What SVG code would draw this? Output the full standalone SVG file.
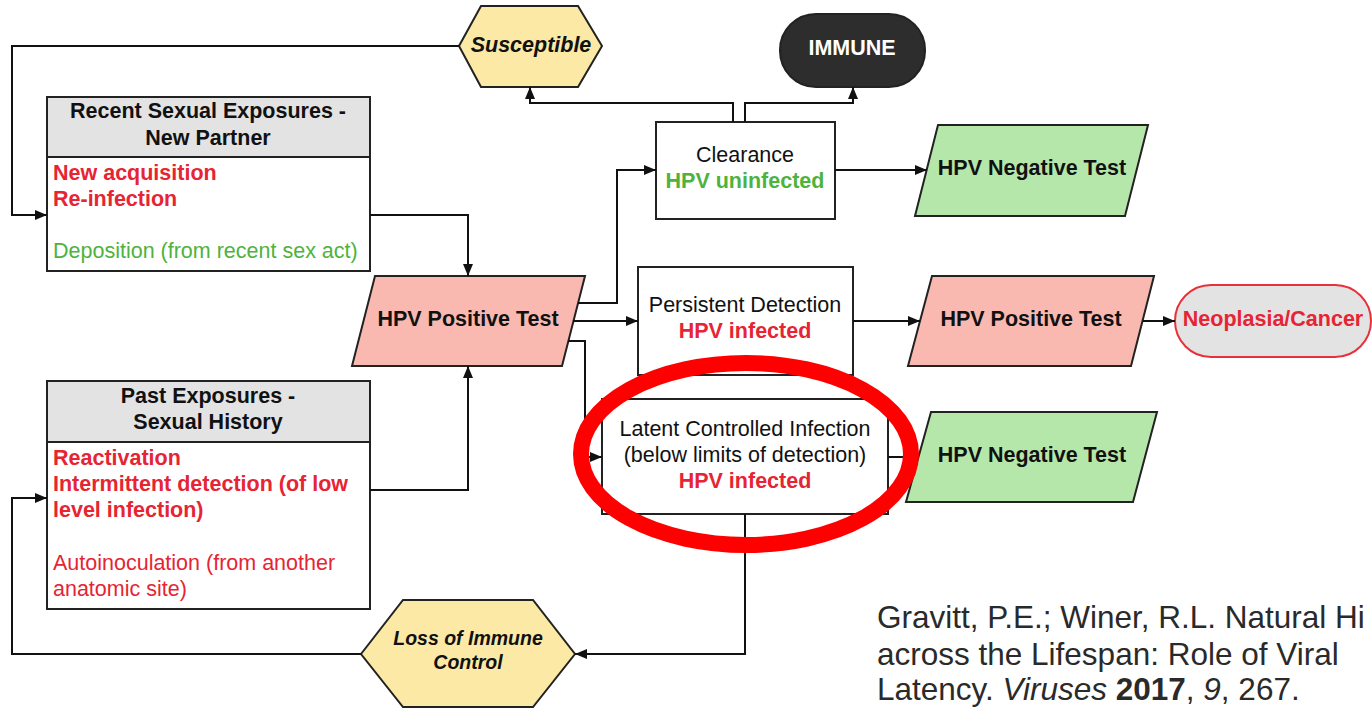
<svg xmlns="http://www.w3.org/2000/svg" width="1372" height="709" viewBox="0 0 1372 709">
<style>
text{font-family:"Liberation Sans",Arial,sans-serif;font-size:21.5px;fill:#111}
.b{font-weight:bold}
.bi{font-weight:bold;font-style:italic}
.c{text-anchor:middle}
.red{fill:#e62433}
.grn{fill:#4db33d}
.box{stroke:#222;stroke-width:2}
.conn path{fill:none;stroke:#111;stroke-width:2}
.cite{font-size:31.5px;fill:#2a2a2a}
</style>
<defs>
<marker id="ah" viewBox="0 0 12 10" refX="12" refY="5" markerWidth="12" markerHeight="10" markerUnits="userSpaceOnUse" orient="auto">
<path d="M0,0 L12,5 L0,10 Z" fill="#111"/>
</marker>
</defs>
<rect width="1372" height="709" fill="#fff"/>

<g id="susceptible">
<polygon class="box" points="459,46 481,6 578,6 602,46 578,87 481,87" fill="#fce9a6"/>
<text class="bi c" x="531" y="52">Susceptible</text>
</g>

<g id="immune">
<rect class="box" x="780" y="14" width="145" height="73" rx="36" fill="#2d2d2d"/>
<text class="b c" x="852" y="55" style="fill:#fff">IMMUNE</text>
</g>

<g id="recent">
<rect class="box" x="47" y="97" width="323" height="60" fill="#e3e3e3"/>
<rect class="box" x="47" y="157" width="323" height="114" fill="#fff"/>
<text class="b c" x="208" y="118">Recent Sexual Exposures -</text>
<text class="b c" x="208" y="145">New Partner</text>
<text class="b red" x="53" y="180">New acquisition</text>
<text class="b red" x="53" y="206">Re-infection</text>
<text class="grn" x="53" y="258">Deposition (from recent sex act)</text>
</g>

<g id="past">
<rect class="box" x="47" y="381" width="323" height="61" fill="#e3e3e3"/>
<rect class="box" x="47" y="442" width="323" height="167" fill="#fff"/>
<text class="b c" x="208" y="403">Past Exposures -</text>
<text class="b c" x="208" y="429">Sexual History</text>
<text class="b red" x="53" y="465">Reactivation</text>
<text class="b red" x="53" y="491">Intermittent detection (of low</text>
<text class="b red" x="53" y="517">level infection)</text>
<text class="red" x="53" y="570">Autoinoculation (from another</text>
<text class="red" x="53" y="596">anatomic site)</text>
</g>

<g id="hpvpos1">
<polygon class="box" points="375,276 585,276 562,366 352,366" fill="#f9b9b0"/>
<text class="b c" x="468" y="326">HPV Positive Test</text>
</g>

<g id="clearance">
<rect class="box" x="656" y="122" width="179" height="97" fill="#fff"/>
<text class="c" x="745" y="162">Clearance</text>
<text class="b c grn" x="745" y="188">HPV uninfected</text>
</g>

<g id="persistent">
<rect class="box" x="638" y="267" width="215" height="108" fill="#fff"/>
<text class="c" x="745" y="312">Persistent Detection</text>
<text class="b c red" x="745" y="338">HPV infected</text>
</g>

<g id="latent">
<rect class="box" x="602" y="399" width="286" height="115" fill="#fff"/>
<text class="c" x="745" y="436">Latent Controlled Infection</text>
<text class="c" x="745" y="462">(below limits of detection)</text>
<text class="b c red" x="745" y="488">HPV infected</text>
</g>

<g id="hpvneg1">
<polygon class="box" points="938,125 1148,125 1125,216 915,216" fill="#b6e7aa"/>
<text class="b c" x="1032" y="175">HPV Negative Test</text>
</g>

<g id="hpvpos2">
<polygon class="box" points="932,276 1154,276 1131,366 908,366" fill="#f9b9b0"/>
<text class="b c" x="1031" y="326">HPV Positive Test</text>
</g>

<g id="neoplasia">
<rect x="1175" y="285" width="196" height="72" rx="36" fill="#e3e3e3" stroke="#e8303a" stroke-width="2"/>
<text class="b c red" x="1273" y="326">Neoplasia/Cancer</text>
</g>

<g id="hpvneg2">
<polygon class="box" points="931,412 1157,412 1133,502 906,502" fill="#b6e7aa"/>
<text class="b c" x="1032" y="462">HPV Negative Test</text>
</g>

<g id="loss">
<polygon class="box" points="361,654 403,600 533,600 575,654 533,707 403,707" fill="#fce9a6"/>
<text class="bi c" x="468" y="645" style="font-size:19.5px">Loss of Immune</text>
<text class="bi c" x="468" y="669" style="font-size:19.5px">Control</text>
</g>

<g class="conn" id="connectors">
<path d="M459,46 H12 V215 H47" marker-end="url(#ah)"/>
<path d="M370,215 H468 V276" marker-end="url(#ah)"/>
<path d="M370,490 H468 V366" marker-end="url(#ah)"/>
<path d="M578,303 H617 V170 H656" marker-end="url(#ah)"/>
<path d="M573,321 H638" marker-end="url(#ah)"/>
<path d="M568,341 H585 V457 H602" marker-end="url(#ah)"/>
<path d="M733,122 V103 H530 V87" marker-end="url(#ah)"/>
<path d="M745,122 V103 H853 V87" marker-end="url(#ah)"/>
<path d="M835,170 H927" marker-end="url(#ah)"/>
<path d="M853,321 H920" marker-end="url(#ah)"/>
<path d="M1143,321 H1175" marker-end="url(#ah)"/>
<path d="M888,457 H918" marker-end="url(#ah)"/>
<path d="M745,514 V654 H575" marker-end="url(#ah)"/>
<path d="M361,654 H12 V498 H47" marker-end="url(#ah)"/>
</g>

<g id="highlight">
<ellipse cx="746" cy="454" rx="165" ry="91" fill="none" stroke="#ff0000" stroke-width="16"/>
</g>

<g id="citation">
<text class="cite" x="877" y="628">Gravitt, P.E.; Winer, R.L. Natural Hi</text>
<text class="cite" x="877" y="665">across the Lifespan: Role of Viral</text>
<text class="cite" x="877" y="700">Latency. <tspan font-style="italic">Viruses</tspan> <tspan font-weight="bold">2017</tspan>, <tspan font-style="italic">9</tspan>, 267.</text>
</g>
</svg>
